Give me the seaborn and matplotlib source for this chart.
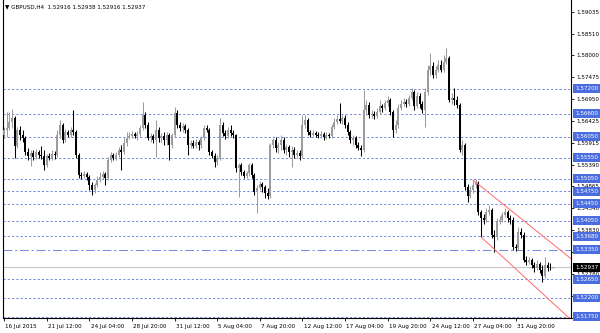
import numpy as np
import pandas as pd
import matplotlib
matplotlib.use("Agg")
import matplotlib.pyplot as plt
import matplotlib.transforms as mtransforms
import seaborn as sns

# ---------------- data ----------------
title = "\u25bc GBPUSD,H4  1.52916 1.52938 1.52916 1.52937"
first_open = 1.5610

closes = [
    1.5621, 1.5626, 1.5641, 1.5650, 1.5583, 1.5621, 1.5610, 1.5602, 1.5569, 1.5559,
    1.5567, 1.5557, 1.5569, 1.5562, 1.5559, 1.5538, 1.5559, 1.5555, 1.5564, 1.5562,
    1.5610, 1.5633, 1.5598, 1.5617, 1.5610, 1.5621, 1.5617, 1.5562, 1.5514, 1.5512,
    1.5516, 1.5509, 1.5490, 1.5478, 1.5490, 1.5502, 1.5509, 1.5516, 1.5507, 1.5550,
    1.5562, 1.5555, 1.5562, 1.5574, 1.5569, 1.5590, 1.5602, 1.5607, 1.5612, 1.5607,
    1.5612, 1.5626, 1.5657, 1.5633, 1.5602, 1.5607, 1.5598, 1.5621, 1.5602, 1.5607,
    1.5598, 1.5610, 1.5586, 1.5610, 1.5662, 1.5633, 1.5626, 1.5631, 1.5621, 1.5586,
    1.5590, 1.5583, 1.5593, 1.5586, 1.5602, 1.5626, 1.5621, 1.5569, 1.5559, 1.5545,
    1.5555, 1.5633, 1.5614, 1.5607, 1.5621, 1.5614, 1.5610, 1.5531, 1.5538, 1.5521,
    1.5512, 1.5519, 1.5538, 1.5514, 1.5473, 1.5483, 1.5492, 1.5485, 1.5471, 1.5464,
    1.5586, 1.5598, 1.5578, 1.5586, 1.5598, 1.5574, 1.5581, 1.5569, 1.5574, 1.5562,
    1.5567, 1.5559, 1.5633, 1.5645, 1.5617, 1.5610, 1.5614, 1.5610, 1.5607, 1.5612,
    1.5605, 1.5610, 1.5607, 1.5629, 1.5641, 1.5648, 1.5643, 1.5650, 1.5633, 1.5617,
    1.5598, 1.5602, 1.5586, 1.5578, 1.5574, 1.5669, 1.5681, 1.5657, 1.5660, 1.5655,
    1.5665, 1.5679, 1.5674, 1.5686, 1.5693, 1.5665, 1.5621, 1.5633, 1.5674, 1.5684,
    1.5688, 1.5684, 1.5698, 1.5712, 1.5679, 1.5703, 1.5684, 1.5669, 1.5712, 1.5765,
    1.5774, 1.5753, 1.5765, 1.5777, 1.5765, 1.5784, 1.5794, 1.5693, 1.5698, 1.5693,
    1.5681, 1.5574, 1.5586, 1.5485, 1.5464, 1.5478, 1.5490, 1.5495, 1.5426, 1.5411,
    1.5406, 1.5426, 1.5430, 1.5371, 1.5366, 1.5402, 1.5406, 1.5418, 1.5426, 1.5411,
    1.5406, 1.5342, 1.5339, 1.5378, 1.5371, 1.5311, 1.5306, 1.5311, 1.5299, 1.5292,
    1.5301, 1.5287, 1.5273, 1.5299, 1.5292, 1.52916, 1.52937,
]

highs = [
    1.5629, 1.5665, 1.5665, 1.5672, 1.5655, 1.5629, 1.5631, 1.5621, 1.5607, 1.5578,
    1.5574, 1.5574, 1.5576, 1.5574, 1.5583, 1.5574, 1.5564, 1.5567, 1.5574, 1.5571,
    1.5621, 1.5645, 1.5638, 1.5624, 1.5621, 1.5629, 1.5669, 1.5621, 1.5567, 1.5521,
    1.5524, 1.5521, 1.5514, 1.5497, 1.5495, 1.5512, 1.5521, 1.5524, 1.5521, 1.5557,
    1.5569, 1.5567, 1.5569, 1.5581, 1.5586, 1.5602, 1.5617, 1.5617, 1.5619, 1.5617,
    1.5619, 1.5633, 1.5688, 1.5665, 1.5641, 1.5614, 1.5612, 1.5645, 1.5629, 1.5614,
    1.5617, 1.5617, 1.5614, 1.5614, 1.5676, 1.5669, 1.5641, 1.5638, 1.5636, 1.5626,
    1.5598, 1.5598, 1.5600, 1.5598, 1.5607, 1.5633, 1.5633, 1.5626, 1.5574, 1.5567,
    1.5562, 1.5650, 1.5641, 1.5621, 1.5629, 1.5633, 1.5621, 1.5612, 1.5543, 1.5543,
    1.5526, 1.5524, 1.5543, 1.5543, 1.5519, 1.5490, 1.5500, 1.5497, 1.5490, 1.5483,
    1.5590, 1.5602, 1.5605, 1.5593, 1.5610, 1.5605, 1.5588, 1.5586, 1.5583, 1.5581,
    1.5574, 1.5574, 1.5657, 1.5657, 1.5650, 1.5621, 1.5621, 1.5619, 1.5617, 1.5619,
    1.5617, 1.5617, 1.5614, 1.5636, 1.5650, 1.5657, 1.5686, 1.5657, 1.5657, 1.5641,
    1.5621, 1.5610, 1.5607, 1.5593, 1.5586, 1.5717, 1.5693, 1.5688, 1.5669, 1.5667,
    1.5674, 1.5693, 1.5684, 1.5693, 1.5703, 1.5698, 1.5669, 1.5645, 1.5684, 1.5693,
    1.5698, 1.5696, 1.5705, 1.5722, 1.5717, 1.5712, 1.5710, 1.5691, 1.5722, 1.5777,
    1.5806, 1.5784, 1.5774, 1.5789, 1.5789, 1.5801, 1.5817, 1.5798, 1.5710, 1.5722,
    1.5703, 1.5686, 1.5598, 1.5590, 1.5492, 1.5488, 1.5502, 1.5504, 1.5500, 1.5430,
    1.5421, 1.5435, 1.5442, 1.5435, 1.5383, 1.5411, 1.5416, 1.5426, 1.5435, 1.5430,
    1.5418, 1.5414, 1.5349, 1.5390, 1.5387, 1.5378, 1.5320, 1.5318, 1.5316, 1.5306,
    1.5311, 1.5306, 1.5299, 1.5318, 1.5306, 1.5304, 1.52938,
]

lows = [
    1.5602, 1.5605, 1.5621, 1.5626, 1.5555, 1.5578, 1.5598, 1.5593, 1.5562, 1.5550,
    1.5535, 1.5550, 1.5552, 1.5555, 1.5552, 1.5526, 1.5533, 1.5550, 1.5550, 1.5552,
    1.5557, 1.5602, 1.5590, 1.5593, 1.5605, 1.5605, 1.5610, 1.5555, 1.5507, 1.5504,
    1.5507, 1.5502, 1.5478, 1.5466, 1.5471, 1.5485, 1.5497, 1.5504, 1.5490, 1.5502,
    1.5545, 1.5550, 1.5550, 1.5557, 1.5526, 1.5564, 1.5583, 1.5600, 1.5602, 1.5602,
    1.5598, 1.5605, 1.5621, 1.5626, 1.5598, 1.5593, 1.5590, 1.5557, 1.5593, 1.5593,
    1.5586, 1.5586, 1.5550, 1.5578, 1.5605, 1.5626, 1.5619, 1.5617, 1.5614, 1.5562,
    1.5578, 1.5578, 1.5578, 1.5574, 1.5578, 1.5598, 1.5617, 1.5562, 1.5555, 1.5533,
    1.5538, 1.5550, 1.5607, 1.5600, 1.5602, 1.5607, 1.5602, 1.5521, 1.5461, 1.5514,
    1.5507, 1.5507, 1.5512, 1.5507, 1.5466, 1.5423, 1.5478, 1.5473, 1.5459, 1.5457,
    1.5459, 1.5578, 1.5569, 1.5567, 1.5574, 1.5567, 1.5562, 1.5557, 1.5533, 1.5555,
    1.5555, 1.5550, 1.5555, 1.5626, 1.5610, 1.5605, 1.5607, 1.5605, 1.5602, 1.5602,
    1.5598, 1.5600, 1.5602, 1.5602, 1.5624, 1.5636, 1.5638, 1.5636, 1.5626, 1.5610,
    1.5590, 1.5586, 1.5578, 1.5574, 1.5559, 1.5569, 1.5657, 1.5650, 1.5650, 1.5648,
    1.5650, 1.5660, 1.5665, 1.5669, 1.5679, 1.5657, 1.5605, 1.5614, 1.5626, 1.5669,
    1.5679, 1.5676, 1.5679, 1.5693, 1.5669, 1.5674, 1.5674, 1.5662, 1.5629, 1.5705,
    1.5753, 1.5746, 1.5746, 1.5760, 1.5760, 1.5760, 1.5779, 1.5688, 1.5684, 1.5681,
    1.5674, 1.5569, 1.5562, 1.5478, 1.5449, 1.5459, 1.5471, 1.5483, 1.5418, 1.5366,
    1.5397, 1.5402, 1.5418, 1.5363, 1.5330, 1.5359, 1.5397, 1.5402, 1.5414, 1.5402,
    1.5397, 1.5335, 1.5332, 1.5335, 1.5363, 1.5306, 1.5299, 1.5301, 1.5292, 1.5282,
    1.5287, 1.5280, 1.5258, 1.5268, 1.5285, 1.5287, 1.52916,
]

time_labels = ["16 Jul 2015", "21 Jul 12:00", "24 Jul 04:00", "28 Jul 20:00",
               "31 Jul 12:00", "5 Aug 04:00", "7 Aug 20:00", "12 Aug 12:00",
               "17 Aug 04:00", "19 Aug 20:00", "24 Aug 12:00", "27 Aug 04:00",
               "31 Aug 20:00"]
time_label_bars = [0, 16, 32, 48, 64, 80, 96, 112, 128, 144, 160, 176, 192]

price_ticks = [1.59035, 1.58510, 1.58000, 1.57475, 1.56950, 1.56425, 1.55915,
               1.55390, 1.54865, 1.54340, 1.53830, 1.53305, 1.52780, 1.52255,
               1.51730]
hidden_ticks = [1.53305, 1.51730]

levels = [1.5720, 1.5660, 1.5605, 1.5555, 1.5505, 1.5475, 1.5445, 1.5405,
          1.5368, 1.5335, 1.5265, 1.5220, 1.5175]
dashdot_level = 1.5335
current_price = 1.52937

channel_upper_bar = [176, 212.8]
channel_upper_price = [1.5502, 1.5314]
channel_lower_bar = [179, 212.8]
channel_lower_price = [1.5366, 1.5168]

# ---------------- build table ----------------
n = len(closes)
assert len(highs) == n and len(lows) == n
df = pd.DataFrame({
    "bar": np.arange(n),
    "open": [first_open] + closes[:-1],
    "close": closes,
    "high": highs,
    "low": lows,
})
df["high"] = df[["high", "open", "close"]].max(axis=1)
df["low"] = df[["low", "open", "close"]].min(axis=1)
df["bull"] = df["close"] >= df["open"]

# ---------------- style ----------------
sns.set_style("white")
plt.rcParams["font.family"] = ["DejaVu Sans"]

BULL = "#9c9c9c"
BEAR = "#000000"
LEVEL = "#6f86e2"
BOX = "#4a6ee0"
FS = 4.1

fig = plt.figure(figsize=(6.0, 3.33), dpi=100)
fig.patch.set_facecolor("white")
ax = fig.add_axes([3 / 600, 15 / 333, 568 / 600, 318 / 333])
ax.set_facecolor("white")

# horizontal levels
for lv in levels:
    if lv == dashdot_level:
        ax.axhline(lv, color=LEVEL, lw=0.7, linestyle=(0, (9, 3, 2, 3)), zorder=1)
    else:
        ax.axhline(lv, color=LEVEL, lw=0.7, linestyle=(0, (2.2, 2.2)), zorder=1)
ax.axhline(current_price, color="#c8c8c8", lw=0.8, zorder=1)

# candles
colors = np.where(df["bull"], BULL, BEAR)
ax.vlines(df["bar"], df["low"], df["high"], colors=colors, lw=0.75, zorder=2)
body_h = (df["close"] - df["open"]).abs().clip(lower=0.00007)
body_b = df[["open", "close"]].min(axis=1)
ax.bar(df["bar"], body_h, bottom=body_b, width=0.75, color=colors,
       edgecolor="none", linewidth=0, zorder=3)

# channel
chan = pd.DataFrame({
    "bar": channel_upper_bar + channel_lower_bar,
    "price": channel_upper_price + channel_lower_price,
    "line": ["upper", "upper", "lower", "lower"],
})
sns.lineplot(data=chan, x="bar", y="price", units="line", estimator=None,
             color="#ff6a6a", lw=0.7, ax=ax, zorder=4, legend=False)

# axes limits
ax.set_xlim(-0.4, 212.8)
ax.set_ylim(1.51722, 1.59322)
ax.set_xlabel("")
ax.set_ylabel("")

# spines
for s in ["left", "bottom", "right"]:
    ax.spines[s].set_visible(True)
    ax.spines[s].set_color("#000000")
    ax.spines[s].set_linewidth(0.8)
ax.spines["top"].set_visible(False)

# y ticks on right
ax.yaxis.tick_right()
ax.set_yticks(price_ticks)
ax.set_yticklabels(["" if p in hidden_ticks else f"{p:.5f}" for p in price_ticks])
ax.tick_params(axis="y", which="both", right=True, left=False, direction="out",
               length=2.5, width=0.6, pad=1.2, labelsize=FS, colors="#000000")

# x ticks
ax.set_xticks(time_label_bars)
ax.set_xticklabels(time_labels, ha="left")
ax.tick_params(axis="x", which="both", bottom=True, direction="out",
               length=2.5, width=0.6, pad=1.5, labelsize=FS, colors="#000000")
offset = mtransforms.ScaledTranslation(1.2 / 100, 0, fig.dpi_scale_trans)
for lab in ax.get_xticklabels():
    lab.set_transform(lab.get_transform() + offset)

# highlighted price labels
ytr = ax.get_yaxis_transform()
for lv in levels:
    ax.text(1.0 + 4 / 568, lv, f"{lv:.5f}", transform=ytr, ha="left", va="center",
            fontsize=FS, color="white", clip_on=False, zorder=6,
            bbox=dict(boxstyle="square,pad=0.35", fc=BOX, ec="none"))
ax.text(1.0 + 4 / 568, current_price, f"{current_price:.5f}", transform=ytr,
        ha="left", va="center", fontsize=FS, color="white", clip_on=False, zorder=7,
        bbox=dict(boxstyle="square,pad=0.35", fc="#000000", ec="none"))

# title
fig.text(5 / 600, 1 - 7 / 333, title, fontsize=FS, va="center", ha="left",
         color="#000000")

fig.savefig("out.png", dpi=100, facecolor="white")
